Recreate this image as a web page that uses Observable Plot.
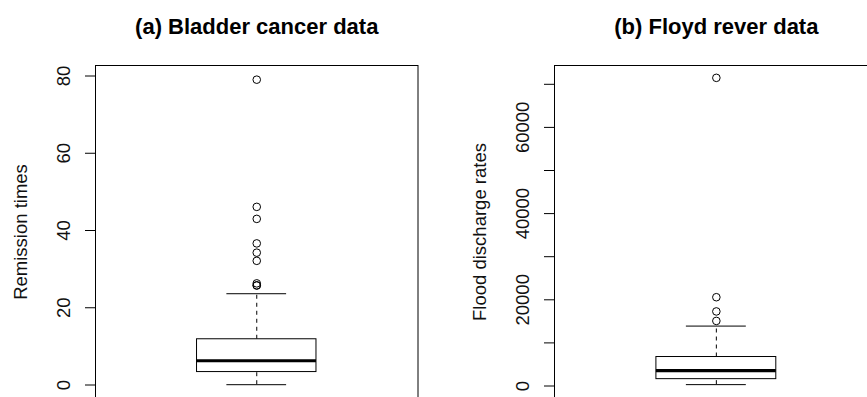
<!DOCTYPE html>
<html>
<head>
<meta charset="utf-8">
<script src="https://cdn.jsdelivr.net/npm/d3@7"></script>
<script src="https://cdn.jsdelivr.net/npm/@observablehq/plot@0.6"></script>
<style>
  html, body { margin: 0; padding: 0; background: #fff; overflow: hidden; }
  #wrap { position: relative; width: 867px; height: 397px; overflow: hidden; background: #fff; }
  #wrap svg { position: absolute; top: 0; }
</style>
</head>
<body>
<div id="wrap"></div>
<script>
// ---- data ----
// five-number boxplot stats: lower whisker, Q1, median, Q3, upper whisker
const bladderStats = [0.08, 3.35, 6.28, 11.84, 23.63];
const bladderOutliers = [25.74, 25.82, 26.31, 32.15, 34.26, 36.66, 43.01, 46.12, 79.05];
const floydStats = [318, 1590, 3570, 6725, 13900];
const floydOutliers = [15100, 17300, 20600, 71500];

const panelTitles = ["(a) Bladder cancer data", "(b) Floyd rever data"];
const yLabels = ["Remission times", "Flood discharge rates"];

const bladderTicks = [0, 20, 40, 60, 80];
const bladderTickLabels = [0, 20, 40, 60, 80];
const floydTicks = [0, 10000, 20000, 30000, 40000, 50000, 60000, 70000];
const floydTickLabels = [0, 20000, 40000, 60000];

const FONT = "'Liberation Sans', Arial, Helvetica, sans-serif";

function boxPanel({stats, outliers, title, ylabel, ticks, tickLabels, yDomain, yRange, marginLeft, width, marginRight}) {
  const [lo, q1, med, q3, hi] = stats;
  const box = [{x1: 0.8, x2: 1.2, y1: q1, y2: q3}];
  const whiskers = [{y1: q3, y2: hi}, {y1: lo, y2: q1}];
  const caps = [lo, hi];
  const labelSet = new Set(tickLabels);
  return Plot.plot({
    width, height: 400,
    marginLeft, marginRight, marginTop: 65, marginBottom: 2,
    style: {fontFamily: FONT, fontSize: "18.5px", color: "#000", background: "transparent"},
    x: {domain: [0.46, 1.54], axis: null},
    y: {domain: yDomain, range: yRange, axis: null},
    marks: [
      Plot.ruleX(whiskers, {x: () => 1, y1: "y1", y2: "y2", stroke: "#000", strokeWidth: 1, strokeDasharray: "4,4"}),
      Plot.ruleY(caps, {y: d => d, x1: () => 0.9, x2: () => 1.1, stroke: "#000", strokeWidth: 1}),
      Plot.rect(box, {x1: "x1", x2: "x2", y1: "y1", y2: "y2", fill: "#fff", stroke: "#000", strokeWidth: 1}),
      Plot.ruleY([med], {y: d => d, x1: () => 0.8, x2: () => 1.2, stroke: "#000", strokeWidth: 3.2}),
      Plot.dot(outliers, {x: () => 1, y: d => d, r: 3.8, stroke: "#000", fill: "none", strokeWidth: 1}),
      Plot.frame({stroke: "#000", strokeWidth: 1}),
      Plot.axisY({
        ticks, tickSize: 10, tickPadding: 15.5, tickRotate: -90,
        tickFormat: d => labelSet.has(d) ? String(d) : "",
        label: null, fontSize: 18.5, stroke: "#000", fill: "#111"
      }),
      Plot.text([ylabel], {text: d => d, frameAnchor: "left", rotate: -90, textAnchor: "middle", lineAnchor: "bottom", dx: -69, fontSize: 18.5, fill: "#111"}),
      Plot.text([title], {text: d => d, frameAnchor: "top", textAnchor: "middle", lineAnchor: "bottom", dy: -31.5, fontSize: 22, fontWeight: "bold", fill: "#000"})
    ]
  });
}

const wrap = document.getElementById("wrap");

const pa = boxPanel({
  stats: bladderStats, outliers: bladderOutliers,
  title: panelTitles[0], ylabel: yLabels[0],
  ticks: bladderTicks, tickLabels: bladderTickLabels,
  yDomain: [0, 80], yRange: [384.5, 75.5],
  marginLeft: 95, width: 440, marginRight: 22.5
});
pa.style.left = "0px";
wrap.appendChild(pa);

const pb = boxPanel({
  stats: floydStats, outliers: floydOutliers,
  title: panelTitles[1], ylabel: yLabels[1],
  ticks: floydTicks, tickLabels: floydTickLabels,
  yDomain: [0, 70000], yRange: [385.5, 83.8],
  marginLeft: 114, width: 440, marginRight: 2.3
});
pb.style.left = "440px";
wrap.appendChild(pb);
</script>
</body>
</html>
